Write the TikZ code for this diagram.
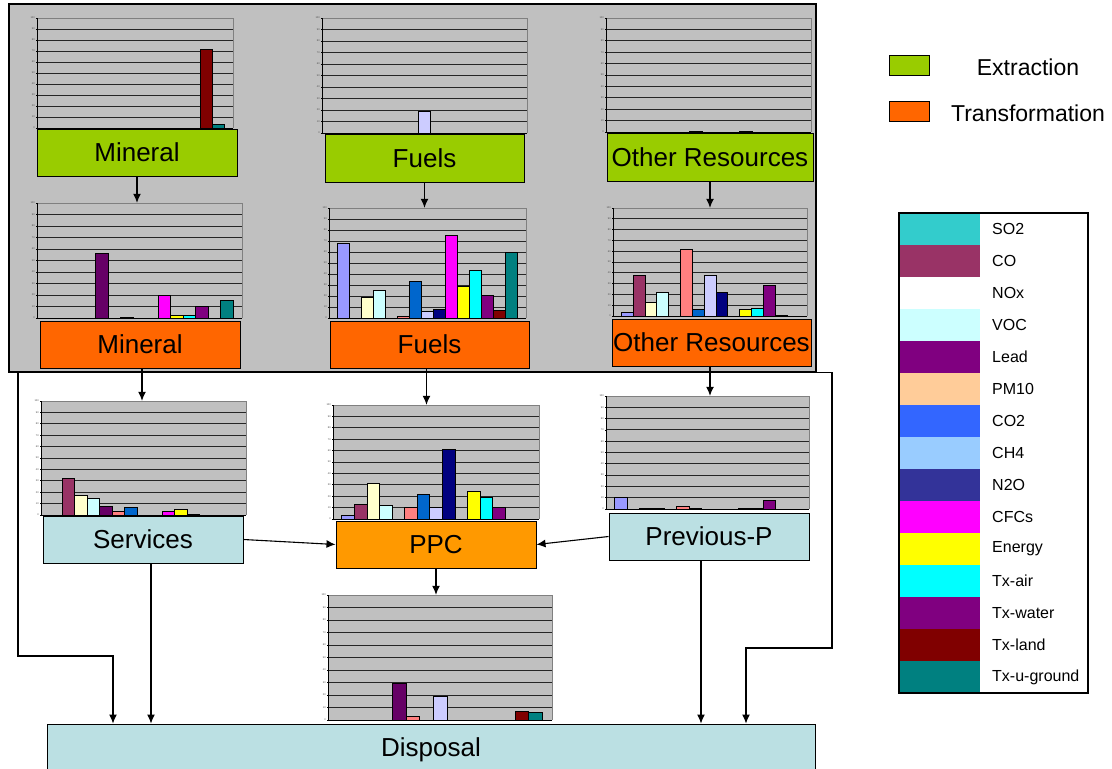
\documentclass[tikz,border=0pt]{standalone}
\usepackage{fontspec}
\setmainfont{Liberation Sans}
\usetikzlibrary{arrows.meta,fit}

% palette
\definecolor{bggrey}{HTML}{C0C0C0}
\definecolor{exgreen}{HTML}{99CC00}
\definecolor{trorange}{HTML}{FF6600}
\definecolor{ppcorange}{HTML}{FF9900}
\definecolor{paleteal}{HTML}{BBE0E3}
% bar series colours
\definecolor{c1}{HTML}{9999FF}
\definecolor{c2}{HTML}{993366}
\definecolor{c3}{HTML}{FFFFCC}
\definecolor{c4}{HTML}{CCFFFF}
\definecolor{c5}{HTML}{660066}
\definecolor{c6}{HTML}{FF8080}
\definecolor{c7}{HTML}{0066CC}
\definecolor{c8}{HTML}{CCCCFF}
\definecolor{c9}{HTML}{000080}
\definecolor{c10}{HTML}{FF00FF}
\definecolor{c11}{HTML}{FFFF00}
\definecolor{c12}{HTML}{00FFFF}
\definecolor{c13}{HTML}{800080}
\definecolor{c14}{HTML}{800000}
\definecolor{c15}{HTML}{008080}
% key colours
\definecolor{l1}{HTML}{33CCCC}
\definecolor{l2}{HTML}{993366}
\definecolor{l3}{HTML}{FFFFFF}
\definecolor{l4}{HTML}{CCFFFF}
\definecolor{l5}{HTML}{800080}
\definecolor{l6}{HTML}{FFCC99}
\definecolor{l7}{HTML}{3366FF}
\definecolor{l8}{HTML}{99CCFF}
\definecolor{l9}{HTML}{333399}
\definecolor{l10}{HTML}{FF00FF}
\definecolor{l11}{HTML}{FFFF00}
\definecolor{l12}{HTML}{00FFFF}
\definecolor{l13}{HTML}{800080}
\definecolor{l14}{HTML}{800000}
\definecolor{l15}{HTML}{008080}

\tikzset{
  boxbase/.style={draw=black, line width=1pt, inner sep=0pt,
    minimum width=200pt, minimum height=47pt,
    font=\fontsize{26}{30}\selectfont},
  exbox/.style={boxbase, fill=exgreen},
  trbox/.style={boxbase, fill=trorange},
  ppcbox/.style={boxbase, fill=ppcorange},
  tealbox/.style={boxbase, fill=paleteal},
  gridline/.style={black!85, line width=0.9pt},
  frameline/.style={black!50, line width=1pt},
  axisline/.style={black, line width=0.8pt},
  ticklabel/.style={inner sep=0.4pt, font=\fontsize{2.5}{3}\selectfont, text=black!70},
  barstyle/.style={draw=black, line width=0.6pt},
  conn/.style={line width=1.1pt, -{Latex[length=9pt,width=8pt]}},
  keytext/.style={font=\fontsize{23}{27}\selectfont},
  rowtext/.style={anchor=west, inner sep=0pt, font=\fontsize{16}{19}\selectfont},
}

% #1 name, #2 left, #3 top, #4 right, #5 bottom, #6 series/value pairs
\newcommand\barchart[6]{%
  \fill[bggrey] (#2,#3) rectangle (#4,#5);
  \foreach \k in {1,...,9}
    \draw[gridline] (#2,{#5-(#5-#3)*\k/10}) -- (#4,{#5-(#5-#3)*\k/10});
  \draw[frameline] (#2,#3) -- (#4,#3) -- (#4,#5);
  \foreach \k [evaluate=\k as \lab using int(10*\k)] in {0,...,10}
    \draw[axisline] (#2,{#5-(#5-#3)*\k/10}) -- ++(-1.5,0)
      node[left, ticklabel] {\lab};
  \pgfmathsetmacro\chbw{(#4-#2)/16.4}
  \pgfmathsetmacro\chbo{#2+((#4-#2)-15*\chbw)/2}
  \foreach \i/\v in {#6}
    \draw[barstyle, fill=c\i] ({\chbo+(\i-1)*\chbw},#5) rectangle
      ({\chbo+\i*\chbw},{#5-(#5-#3)*\v/100});
  \draw[axisline] (#2,#3) -- (#2,#5) -- (#4,#5);
  \node[fit={(#2,#3)(#4,#5)}, inner sep=0pt] (#1) {};
}

\begin{document}
\begin{tikzpicture}[x=1pt, y=-1pt]
\useasboundingbox (0,0) rectangle (1112,769);
\fill[white] (0,0) rectangle (1112,769);

% resource stages
\node[draw=black, line width=1.2pt, fill=bggrey, fit={(9,4)(816,372)}, inner sep=0pt] (stage) {};

% charts
\barchart{cME}{37}{18}{233}{128}{14/72, 15/3}
\barchart{cFE}{322}{18}{527}{133}{8/19}
\barchart{cOE}{606}{18}{811}{132}{7/0.8, 11/0.8}
\barchart{cMT}{37}{203}{242}{318}{5/56, 7/1, 10/20, 11/2, 12/2, 13/10, 15/15}
\barchart{cFT}{329}{208}{526}{318}{1/68, 3/19, 4/25, 6/2, 7/33, 8/6, 9/8, 10/75, 11/29, 12/43, 13/21, 14/7, 15/60}
\barchart{cOT}{613}{208}{807}{316}{1/3, 2/38, 3/13, 4/22, 6/62, 7/6, 8/38, 9/22, 11/6, 12/7, 13/28, 14/1}
\barchart{cSv}{41}{401}{246}{515}{2/32, 3/17, 4/15, 5/8, 6/3, 7/7, 10/3, 11/5, 12/1}
\barchart{cPPC}{333}{405}{539}{519}{1/3, 2/13, 3/31, 4/12, 6/10, 7/22, 8/10, 9/61, 11/24, 12/19, 13/10}
\barchart{cPrev}{606}{396}{809}{509}{1/10, 3/0.6, 4/0.6, 6/2, 7/0.6, 11/0.6, 12/0.6, 13/8}
\barchart{cDisp}{328}{595}{552}{720}{5/29, 6/3, 8/19, 14/7, 15/6}

% process boxes
\node[exbox] (mE) at (137,152.5) {Mineral};
\node[exbox, minimum width=199pt, minimum height=48pt] (fE) at (424.5,158) {Fuels};
\node[exbox, minimum width=206pt, minimum height=48pt] (oE) at (710,157) {Other Resources};
\node[trbox] (mT) at (140,344.5) {Mineral};
\node[trbox, minimum width=199pt] (fT) at (429.5,344.5) {Fuels};
\node[trbox, minimum width=199pt] (oT) at (711.5,342.5) {Other Resources};
\node[tealbox] (sv) at (143,539.5) {Services};
\node[ppcbox] (ppc) at (436,544.5) {PPC};
\node[tealbox] (prev) at (709,536.5) {Previous-P};
\node[tealbox, minimum width=768pt, minimum height=52pt] (disp) at (431,750) {Disposal};

% flows
\draw[conn] (mE.south) -- (mE.south |- cMT.north);
\draw[conn] (fE.south) -- (fE.south |- cFT.north);
\draw[conn] (oE.south) -- (oE.south |- cOT.north);
\draw[conn] ([xshift=2pt]mT.south) -- ([xshift=2pt]mT.south |- cSv.north);
\draw[conn] ([xshift=-3pt]fT.south) -- ([xshift=-3pt]fT.south |- cPPC.north);
\draw[conn] ([xshift=-1.5pt]oT.south) -- ([xshift=-1.5pt]oT.south |- cPrev.north);
\draw[conn] (sv.east) -- (ppc.west);
\draw[conn] (prev.west) -- (ppc.east);
\draw[conn] (ppc.south) -- (ppc.south |- cDisp.north);
\draw[conn] ([xshift=8pt]sv.south) -- ([xshift=8pt]sv.south |- disp.north);
\draw[conn] ([xshift=-8pt]prev.south) -- ([xshift=-8pt]prev.south |- disp.north);

\coordinate (lturnA) at (18,656);
\coordinate (lturnB) at (113,656);
\draw[conn] (stage.south -| lturnA) -- (lturnA) -- (lturnB) -- (lturnB |- disp.north);
\coordinate (rturnA) at (832,648);
\coordinate (rturnB) at (746,648);
\draw[conn] (stage.south east) -- (stage.south -| rturnA) -- (rturnA) -- (rturnB) -- (rturnB |- disp.north);

% phase key
\node[draw=black, line width=1pt, fill=exgreen, minimum width=40pt, minimum height=20pt, inner sep=0pt] (keyEx) at (909,65) {};
\node[draw=black, line width=1pt, fill=trorange, minimum width=40pt, minimum height=20pt, inner sep=0pt] (keyTr) at (909,111) {};
\node[keytext] (keyExT) at (1028,67) {Extraction};
\node[keytext] (keyTrT) at (1028,113) {Transformation};

% emission key
\fill[white] (899,213) rectangle (1088,693);
\foreach \name [count=\r] in {SO2,CO,NOx,VOC,Lead,PM10,CO2,CH4,N2O,CFCs,Energy,Tx-air,Tx-water,Tx-land,Tx-u-ground}{
  \fill[l\r] (899,{213+32*(\r-1)}) rectangle (980,{213+32*\r});
  \node[rowtext] (row\r) at (992,{229+32*(\r-1)}) {\name};
}
\node[draw=black, line width=1.2pt, fit={(899,213)(1088,693)}, inner sep=0pt] (emkey) {};
\end{tikzpicture}
\end{document}
